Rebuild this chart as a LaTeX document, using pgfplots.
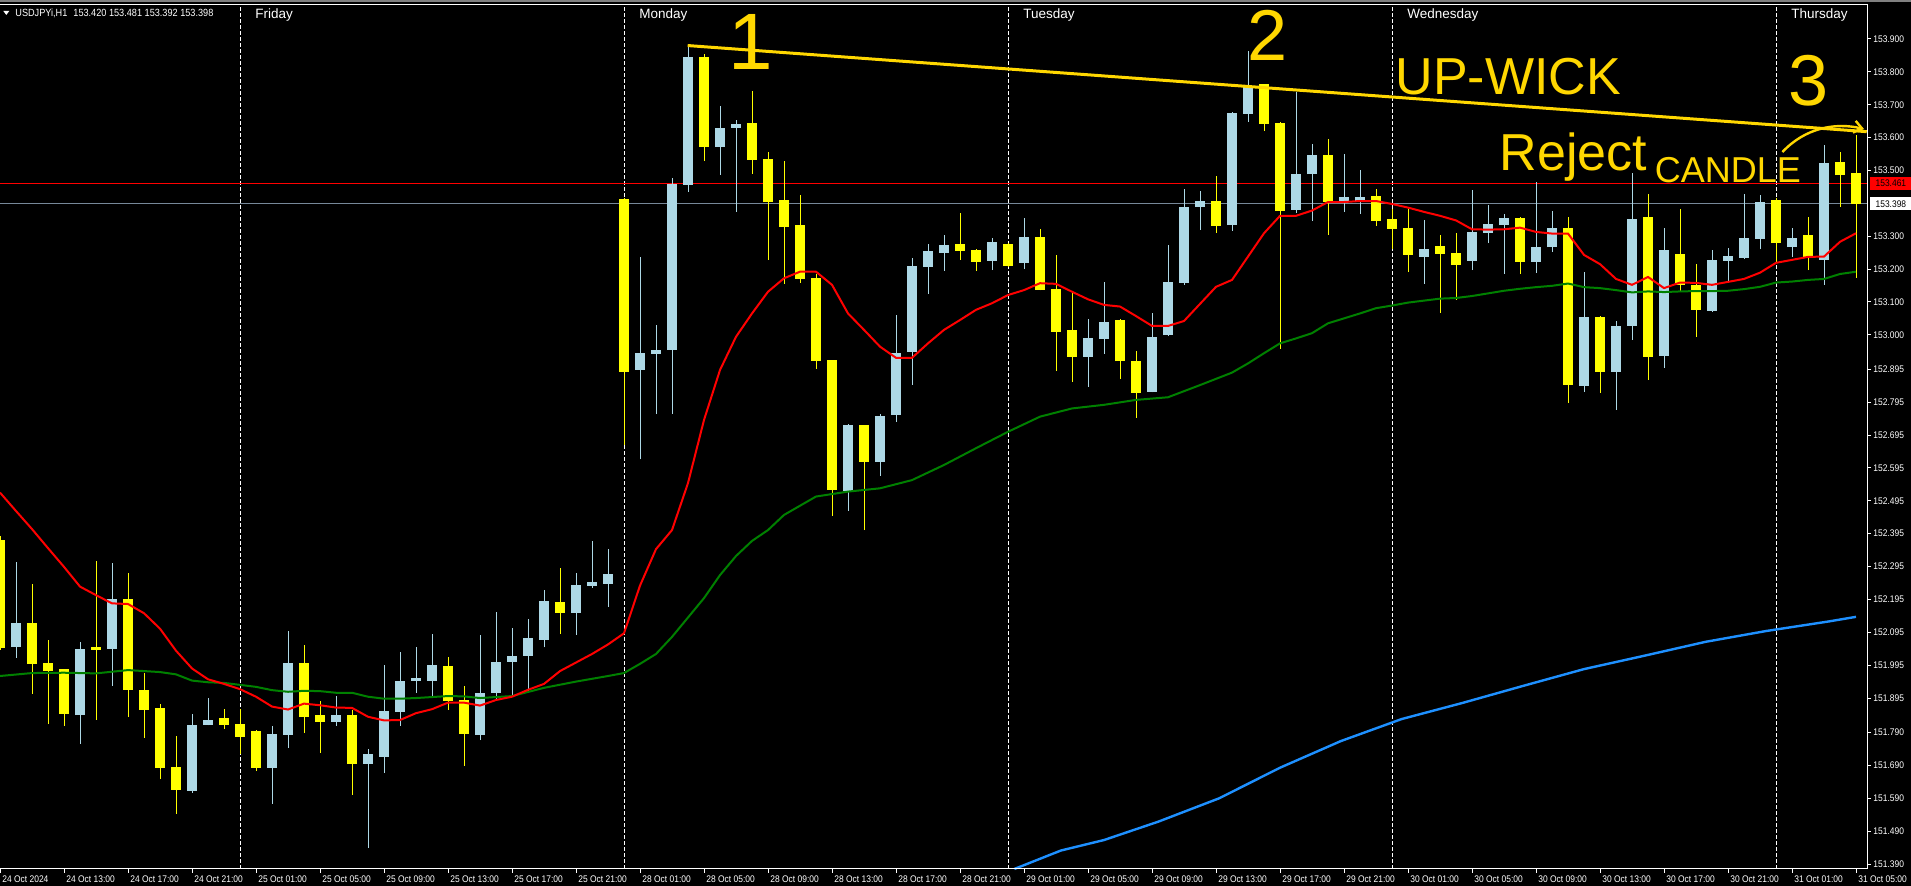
\documentclass[border=0pt]{standalone}
\usepackage{fontspec}
\setmainfont{Liberation Sans}
\newfontfamily\mtfont{Liberation Sans}[FakeStretch=0.88]
\usepackage{pgfplots}
\usepackage{pgfplotstable}
\pgfplotsset{compat=1.18}
\usetikzlibrary{arrows.meta}

\definecolor{bull}{HTML}{ADD8E6}
\definecolor{bear}{HTML}{FFFF00}
\definecolor{trend}{HTML}{FFD700}
\definecolor{bidgray}{HTML}{778899}
\definecolor{maslow}{HTML}{1E90FF}
\definecolor{mamid}{HTML}{008000}
\newcommand{\axfont}{\mtfont\fontsize{4.8pt}{5.5pt}\selectfont}
\newcommand{\dayfont}{\fontsize{6.75pt}{8pt}\selectfont}

% H1 candles, i = hours from 24 Oct 09:00 (weekend skipped)
\pgfplotstableread{
i O H L C
1 152.051 152.308 152.018 152.122
5 151.843 152.065 151.756 152.044
7 152.045 152.306 151.933 152.196
12 151.613 151.846 151.607 151.813
13 151.814 151.895 151.812 151.828
17 151.683 151.810 151.574 151.786
18 151.783 152.099 151.744 152.002
21 151.823 151.901 151.810 151.843
23 151.695 151.740 151.440 151.725
24 151.717 151.996 151.667 151.856
25 151.853 152.035 151.811 151.947
26 151.948 152.050 151.911 151.956
27 151.948 152.090 151.901 151.996
30 151.783 152.087 151.767 151.910
31 151.910 152.157 151.889 152.005
32 152.005 152.108 151.898 152.023
33 152.023 152.136 151.913 152.078
34 152.072 152.224 152.049 152.190
36 152.155 152.275 152.087 152.239
37 152.237 152.373 152.230 152.248
38 152.242 152.348 152.173 152.272
40 152.893 153.237 152.621 152.945
41 152.943 153.030 152.759 152.954
42 152.955 153.477 152.759 153.459
43 153.457 153.879 153.435 153.845
45 153.572 153.696 153.487 153.629
46 153.630 153.654 153.375 153.641
53 152.526 152.729 152.465 152.725
55 152.614 152.758 152.571 152.753
56 152.756 153.060 152.736 152.945
57 152.948 153.233 152.848 153.209
58 153.206 153.276 153.125 153.255
59 153.249 153.304 153.195 153.273
62 153.226 153.295 153.197 153.282
64 153.219 153.355 153.200 153.298
68 152.933 153.048 152.842 152.990
69 152.987 153.161 152.942 153.039
72 152.827 153.066 152.825 152.993
73 152.999 153.273 152.996 153.161
74 153.158 153.444 153.152 153.389
75 153.389 153.438 153.319 153.407
77 153.334 153.677 153.317 153.675
78 153.673 153.864 153.648 153.755
81 153.380 153.740 153.370 153.489
82 153.489 153.581 153.346 153.547
84 153.407 153.550 153.374 153.419
85 153.407 153.501 153.369 153.419
89 153.237 153.349 153.156 153.261
92 153.225 153.441 153.197 153.313
93 153.311 153.395 153.279 153.337
94 153.334 153.368 153.186 153.356
96 153.222 153.465 153.189 153.267
97 153.267 153.377 153.252 153.325
99 152.844 153.191 152.827 153.054
101 152.887 153.042 152.772 153.027
102 153.027 153.491 152.985 153.352
104 152.936 153.325 152.900 153.258
107 153.073 153.258 153.069 153.228
108 153.225 153.263 153.162 153.240
109 153.234 153.428 153.231 153.295
110 153.292 153.425 153.261 153.404
112 153.267 153.325 153.237 153.295
114 153.228 153.578 153.152 153.523
}\bulltab

\pgfplotstableread{
i O H L C
0 152.376 152.388 152.041 152.048
2 152.122 152.241 151.908 152.000
3 152.002 152.071 151.817 151.978
4 151.982 151.984 151.811 151.847
6 152.050 152.312 151.829 152.042
8 152.196 152.275 151.838 151.920
9 151.919 151.971 151.774 151.860
10 151.865 151.877 151.650 151.683
11 151.685 151.780 151.543 151.616
14 151.834 151.862 151.802 151.814
15 151.816 151.863 151.725 151.777
16 151.795 151.797 151.674 151.683
19 152.002 152.056 151.789 151.837
20 151.843 151.886 151.728 151.823
22 151.843 151.859 151.601 151.695
28 151.993 152.020 151.860 151.887
29 151.889 151.932 151.689 151.787
35 152.187 152.291 152.090 152.155
39 153.413 153.415 152.665 152.887
44 153.845 153.853 153.530 153.572
47 153.644 153.742 153.490 153.533
48 153.535 153.555 153.229 153.404
49 153.410 153.529 153.156 153.329
50 153.334 153.425 153.159 153.171
51 153.173 153.184 152.897 152.921
52 152.923 152.924 152.450 152.528
54 152.726 152.727 152.406 152.614
60 153.276 153.371 153.228 153.256
61 153.258 153.261 153.195 153.222
63 153.276 153.278 153.207 153.209
65 153.298 153.322 153.135 153.137
66 153.139 153.243 152.890 153.009
67 153.015 153.130 152.857 152.933
70 153.045 153.047 152.866 152.920
71 152.920 152.951 152.747 152.823
76 153.407 153.483 153.310 153.331
79 153.762 153.764 153.621 153.642
80 153.644 153.646 152.958 153.377
83 153.547 153.595 153.304 153.405
86 153.422 153.444 153.332 153.346
87 153.352 153.384 153.262 153.322
88 153.325 153.384 153.191 153.243
90 153.270 153.304 153.067 153.246
91 153.249 153.310 153.107 153.212
95 153.355 153.357 153.186 153.222
98 153.325 153.358 152.794 152.847
100 153.054 153.056 152.824 152.887
103 153.358 153.428 152.864 152.933
105 153.246 153.383 153.130 153.152
106 153.152 153.216 152.994 153.076
111 153.410 153.416 153.222 153.279
113 153.304 153.358 153.197 153.237
115 153.526 153.556 153.390 153.486
116 153.492 153.608 153.173 153.398
}\beartab

% fast MA (red)
\pgfplotstableread{
i v
0 152.520
1 152.464
2 152.409
3 152.351
4 152.294
5 152.234
6 152.208
7 152.183
8 152.181
9 152.153
10 152.106
11 152.039
12 151.985
13 151.952
14 151.938
15 151.922
16 151.899
17 151.869
18 151.860
19 151.878
20 151.873
21 151.866
22 151.865
23 151.838
24 151.827
25 151.828
26 151.849
27 151.861
28 151.881
29 151.881
30 151.872
31 151.889
32 151.899
33 151.920
34 151.938
35 151.977
36 152.003
37 152.029
38 152.058
39 152.092
40 152.237
41 152.348
42 152.406
43 152.549
44 152.741
45 152.893
46 152.994
47 153.065
48 153.131
49 153.172
50 153.192
51 153.192
52 153.152
53 153.065
54 153.015
55 152.964
56 152.930
57 152.930
58 152.974
59 153.015
60 153.045
61 153.076
62 153.096
63 153.121
64 153.136
65 153.157
66 153.155
67 153.131
68 153.108
69 153.091
70 153.086
71 153.057
72 153.027
73 153.027
74 153.042
75 153.094
76 153.146
77 153.167
78 153.238
79 153.309
80 153.362
81 153.362
82 153.378
83 153.404
84 153.404
85 153.407
86 153.407
87 153.398
88 153.387
89 153.374
90 153.362
91 153.348
92 153.321
93 153.320
94 153.321
95 153.326
96 153.313
97 153.308
98 153.308
99 153.243
100 153.215
101 153.170
102 153.152
103 153.176
104 153.142
105 153.159
106 153.158
107 153.152
108 153.161
109 153.170
110 153.189
111 153.219
112 153.228
113 153.237
114 153.238
115 153.283
116 153.309
}\redma

% middle MA (green)
\pgfplotstableread{
i v
0 151.962
2 151.971
4 151.972
6 151.970
8 151.980
10 151.974
11 151.967
12 151.948
13 151.943
14 151.941
15 151.935
16 151.929
17 151.919
18 151.914
19 151.917
20 151.916
21 151.911
22 151.911
23 151.899
24 151.893
25 151.893
26 151.895
27 151.898
28 151.901
29 151.900
30 151.895
31 151.898
32 151.901
34 151.926
36 151.945
38 151.962
39 151.971
40 151.999
41 152.029
42 152.081
43 152.140
44 152.199
45 152.269
46 152.327
47 152.373
48 152.406
49 152.452
51 152.508
53 152.523
55 152.533
57 152.558
59 152.604
61 152.655
63 152.705
65 152.751
67 152.776
69 152.787
71 152.802
73 152.810
75 152.847
77 152.885
78 152.913
79 152.944
80 152.974
81 152.989
82 153.005
83 153.035
84 153.050
85 153.065
86 153.081
87 153.089
88 153.098
89 153.104
90 153.110
91 153.112
92 153.118
93 153.126
94 153.134
95 153.140
96 153.145
97 153.149
98 153.156
99 153.145
100 153.142
101 153.136
102 153.129
103 153.132
104 153.130
105 153.132
106 153.133
107 153.133
108 153.134
109 153.139
110 153.146
111 153.159
112 153.162
113 153.167
114 153.170
115 153.185
116 153.192
}\greenma

% slow MA (blue)
\pgfplotstableread{
i v
63.4 151.375
66.3 151.431
69 151.463
72.4 151.519
76.2 151.590
80 151.683
83.8 151.764
87.6 151.831
91.4 151.880
95.2 151.932
99 151.983
102.8 152.024
106.6 152.066
110.4 152.099
114.3 152.128
116 152.142
}\bluema

\begin{document}
\begin{tikzpicture}
\fill[black] (0pt,-8.5pt) rectangle (955.5pt,434.5pt);
\useasboundingbox (0pt,-8.5pt) rectangle (955.5pt,434.5pt);
\fill[gray] (0pt,433.5pt) rectangle (955.5pt,434.5pt);
\begin{axis}[
    at={(0pt,0pt)}, anchor=south west,
    scale only axis, width=933.5pt, height=432pt,
    xmin=0, xmax=116.6875, ymin=151.3749, ymax=154.0034,
    clip=false,
    axis line style={draw=none},
    tick align=outside,
    major tick length=2pt,
    tick style={white, line width=0.5pt},
    xtick pos=bottom, ytick pos=right,
    xtick={0,4,...,116},
    xticklabels={24 Oct 2024, 24 Oct 13:00, 24 Oct 17:00, 24 Oct 21:00,
      25 Oct 01:00, 25 Oct 05:00, 25 Oct 09:00, 25 Oct 13:00, 25 Oct 17:00,
      25 Oct 21:00, 28 Oct 01:00, 28 Oct 05:00, 28 Oct 09:00, 28 Oct 13:00,
      28 Oct 17:00, 28 Oct 21:00, 29 Oct 01:00, 29 Oct 05:00, 29 Oct 09:00,
      29 Oct 13:00, 29 Oct 17:00, 29 Oct 21:00, 30 Oct 01:00, 30 Oct 05:00,
      30 Oct 09:00, 30 Oct 13:00, 30 Oct 17:00, 30 Oct 21:00, 31 Oct 01:00,
      31 Oct 05:00},
    xticklabel style={text=white, font=\axfont, anchor=north west,
      inner sep=0pt, xshift=1pt, yshift=-1pt},
    ytick={151.39,151.49,151.59,151.69,151.79,151.895,151.995,152.095,
      152.195,152.295,152.395,152.495,152.595,152.695,152.795,152.895,
      153.0,153.1,153.2,153.3,153.5,153.6,153.7,153.8,153.9},
    yticklabels={151.390,151.490,151.590,151.690,151.790,151.895,151.995,
      152.095,152.195,152.295,152.395,152.495,152.595,152.695,152.795,
      152.895,153.000,153.100,153.200,153.300,153.500,153.600,153.700,
      153.800,153.900},
    yticklabel pos=right,
    yticklabel style={text=white, font=\axfont, anchor=west,
      inner sep=0pt, xshift=1pt},
    extra x ticks={15,39,63,87,111},
    extra x tick style={grid=major, major tick length=0pt,
      xticklabel=\empty,
      major grid style={white, line width=0.5pt, dash pattern=on 2pt off 1pt}},
]
% ask / bid lines
\addplot[red, line width=0.5pt] coordinates {(0,153.461) (116.6875,153.461)};
\addplot[bidgray, line width=0.5pt] coordinates {(0,153.398) (116.6875,153.398)};

% wicks
\addplot[draw=none, forget plot, error bars/.cd, y dir=plus, y explicit,
  error mark=none, error bar style={draw=bull, line width=0.5pt}]
  table[x=i, y=L, y error expr={\thisrow{H}-\thisrow{L}}] {\bulltab};
\addplot[draw=none, forget plot, error bars/.cd, y dir=plus, y explicit,
  error mark=none, error bar style={draw=bear, line width=0.5pt}]
  table[x=i, y=L, y error expr={\thisrow{H}-\thisrow{L}}] {\beartab};
% bodies
\addplot[draw=none, forget plot, error bars/.cd, y dir=plus, y explicit,
  error mark=none, error bar style={draw=bull, line width=5.4pt}]
  table[x=i, y=O, y error expr={\thisrow{C}-\thisrow{O}}] {\bulltab};
\addplot[draw=none, forget plot, error bars/.cd, y dir=plus, y explicit,
  error mark=none, error bar style={draw=bear, line width=5.4pt}]
  table[x=i, y=C, y error expr={\thisrow{O}-\thisrow{C}}] {\beartab};

% moving averages
\addplot[maslow, line width=1.2pt] table[x=i, y=v] {\bluema};
\addplot[mamid, line width=1pt] table[x=i, y=v] {\greenma};
\addplot[red, line width=1pt] table[x=i, y=v] {\redma};

% hand drawn trend line
\addplot[trend, line width=1.5pt] coordinates {(42.98,153.880) (116.67,153.618)};

% frame
\draw[white, line width=0.5pt] (rel axis cs:0,1) -- (rel axis cs:1,1)
  -- (rel axis cs:1,0) -- (rel axis cs:0,0);

% day names
\node[anchor=north west, inner sep=0pt, text=white, font=\dayfont,
  xshift=7.5pt, yshift=-1.5pt] at (axis cs:15,154.0034) {Friday};
\node[anchor=north west, inner sep=0pt, text=white, font=\dayfont,
  xshift=7.5pt, yshift=-1.5pt] at (axis cs:39,154.0034) {Monday};
\node[anchor=north west, inner sep=0pt, text=white, font=\dayfont,
  xshift=7.5pt, yshift=-1.5pt] at (axis cs:63,154.0034) {Tuesday};
\node[anchor=north west, inner sep=0pt, text=white, font=\dayfont,
  xshift=7.5pt, yshift=-1.5pt] at (axis cs:87,154.0034) {Wednesday};
\node[anchor=north west, inner sep=0pt, text=white, font=\dayfont,
  xshift=7.5pt, yshift=-1.5pt] at (axis cs:111,154.0034) {Thursday};

% price labels
\node[fill=red, text=black, anchor=west, inner sep=0pt, minimum width=20.5pt,
  minimum height=6.5pt, font=\axfont, xshift=1.5pt]
  at (axis cs:116.6875,153.461) {153.461};
\node[fill=white, text=black, anchor=west, inner sep=0pt, minimum width=20.5pt,
  minimum height=6.5pt, font=\axfont, xshift=1.5pt]
  at (axis cs:116.6875,153.398) {153.398};

% annotations
\node[text=trend, inner sep=0pt, font=\fontsize{40pt}{40pt}\selectfont]
  at (axis cs:46.9,153.891) {1};
\node[text=trend, inner sep=0pt, font=\fontsize{36pt}{36pt}\selectfont]
  at (axis cs:79.25,153.912) {2};
\node[text=trend, inner sep=0pt, font=\fontsize{36pt}{36pt}\selectfont]
  at (axis cs:113,153.772) {3};
\node[text=trend, inner sep=0pt, anchor=base west, font=\fontsize{26pt}{26pt}\selectfont]
  at (axis cs:87.2,153.730) {UP-WICK};
\node[text=trend, inner sep=0pt, anchor=base west, font=\fontsize{26pt}{26pt}\selectfont]
  at (axis cs:93.7,153.501) {Reject};
\node[text=trend, inner sep=0pt, anchor=base west, font=\fontsize{18pt}{18pt}\selectfont]
  at (axis cs:103.4,153.462) {CANDLE};
\draw[trend, line width=1.2pt, -{Straight Barb[length=4pt,width=6pt]}]
  (axis cs:111.4,153.556) .. controls (axis cs:112.8,153.629)
  and (axis cs:114.7,153.647) .. (axis cs:116.5,153.626);
\end{axis}

% header
\fill[white] (1.65pt,429pt) -- (4.65pt,429pt) -- (3.15pt,427pt) -- cycle;
\node[anchor=base west, inner sep=0pt, text=white,
  font=\mtfont\fontsize{5.2pt}{6pt}\selectfont]
  at (7.5pt,426pt) {USDJPYi,H1\hspace{3pt}153.420 153.481 153.392 153.398};
\end{tikzpicture}
\end{document}
